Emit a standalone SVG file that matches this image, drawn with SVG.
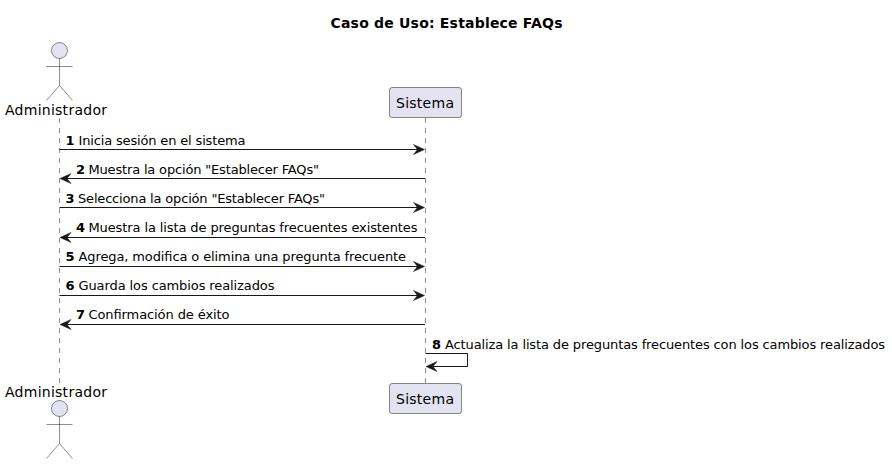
<svg xmlns="http://www.w3.org/2000/svg" xmlns:xlink="http://www.w3.org/1999/xlink" width="892" height="464" viewBox="0 0 892 464">
<style>
text{font-family:"DejaVu Sans",sans-serif;font-size:13px;fill:#000}
.b{font-weight:bold}
.p{font-size:14px}
.life{stroke:#181818;stroke-width:.5;stroke-dasharray:5 5;fill:none}
.msg{stroke:#181818;stroke-width:1;fill:none}
.act{fill:#E2E2F0;stroke:#181818;stroke-width:.5}
.lim{stroke:#181818;stroke-width:.5;fill:none}
.head{fill:#181818;stroke:#181818;stroke-width:.5}
</style>
<defs>
<path id="hl" class="head" d="M0 0L11 -5L7 0L11 5Z"/>
<path id="hr" class="head" d="M0 0L-11 -5L-7 0L-11 5Z"/>
</defs>
<text x="330.5" y="28" class="b" style="font-size:14px" textLength="232">Caso de Uso: Establece FAQs</text>
<g id="lifelines">
<path class="life" d="M59.5 118V384"/>
<path class="life" d="M425.5 118V384"/>
</g>
<g id="actor-top">
<circle class="act" cx="59.5" cy="50.5" r="8"/>
<path class="lim" d="M59.5 58.5V85.5M46.5 66.5H72.5M59.5 85.5L46.5 100.5M59.5 85.5L72.5 100.5"/>
<text class="p" x="5" y="114.5" textLength="102">Administrador</text>
</g>
<g id="sistema-top">
<rect class="act" x="389.5" y="87.5" width="72" height="30" rx="2.5"/>
<text class="p" x="396" y="107.5" textLength="58">Sistema</text>
</g>
<g id="actor-bottom">
<text class="p" x="5" y="396.5" textLength="102">Administrador</text>
<circle class="act" cx="59.5" cy="408.5" r="8"/>
<path class="lim" d="M59.5 416.5V443.5M46.5 424.5H72.5M59.5 443.5L46.5 458.5M59.5 443.5L72.5 458.5"/>
</g>
<g id="sistema-bottom">
<rect class="act" x="389.5" y="383.5" width="72" height="30" rx="2.5"/>
<text class="p" x="396" y="403.5" textLength="58">Sistema</text>
</g>
<g id="connectors">
<path class="msg" d="M59.5 149.5H420"/>
<path class="msg" d="M425 178.5H65"/>
<path class="msg" d="M59.5 207.5H420"/>
<path class="msg" d="M425 237.5H65"/>
<path class="msg" d="M59.5 266.5H420"/>
<path class="msg" d="M59.5 295.5H420"/>
<path class="msg" d="M425 324.5H65"/>
<path class="msg" d="M425.5 353.5H467.5V366.5H431"/>
<use xlink:href="#hr" href="#hr" x="424.5" y="149.5"/>
<use xlink:href="#hl" href="#hl" x="60" y="178.5"/>
<use xlink:href="#hr" href="#hr" x="424.5" y="207.5"/>
<use xlink:href="#hl" href="#hl" x="60" y="237.5"/>
<use xlink:href="#hr" href="#hr" x="424.5" y="266.5"/>
<use xlink:href="#hr" href="#hr" x="424.5" y="295.5"/>
<use xlink:href="#hl" href="#hl" x="60" y="324.5"/>
<use xlink:href="#hl" href="#hl" x="426" y="366.5"/>
</g>
<g id="labels">
<text class="b" x="65.5" y="145">1</text><text x="78.5" y="145" textLength="167">Inicia sesión en el sistema</text>
<text class="b" x="76" y="174">2</text><text x="88.5" y="174" textLength="230.5">Muestra la opción "Establecer FAQs"</text>
<text class="b" x="65.5" y="203">3</text><text x="78" y="203" textLength="247">Selecciona la opción "Establecer FAQs"</text>
<text class="b" x="76" y="232">4</text><text x="88.5" y="232" textLength="329">Muestra la lista de preguntas frecuentes existentes</text>
<text class="b" x="65.5" y="261">5</text><text x="78.5" y="261" textLength="327.5">Agrega, modifica o elimina una pregunta frecuente</text>
<text class="b" x="65.5" y="290">6</text><text x="78.5" y="290" textLength="196">Guarda los cambios realizados</text>
<text class="b" x="76" y="319">7</text><text x="88.5" y="319" textLength="141">Confirmación de éxito</text>
<text class="b" x="432" y="348.5">8</text><text x="445" y="348.5" textLength="440">Actualiza la lista de preguntas frecuentes con los cambios realizados</text>
</g>
</svg>
